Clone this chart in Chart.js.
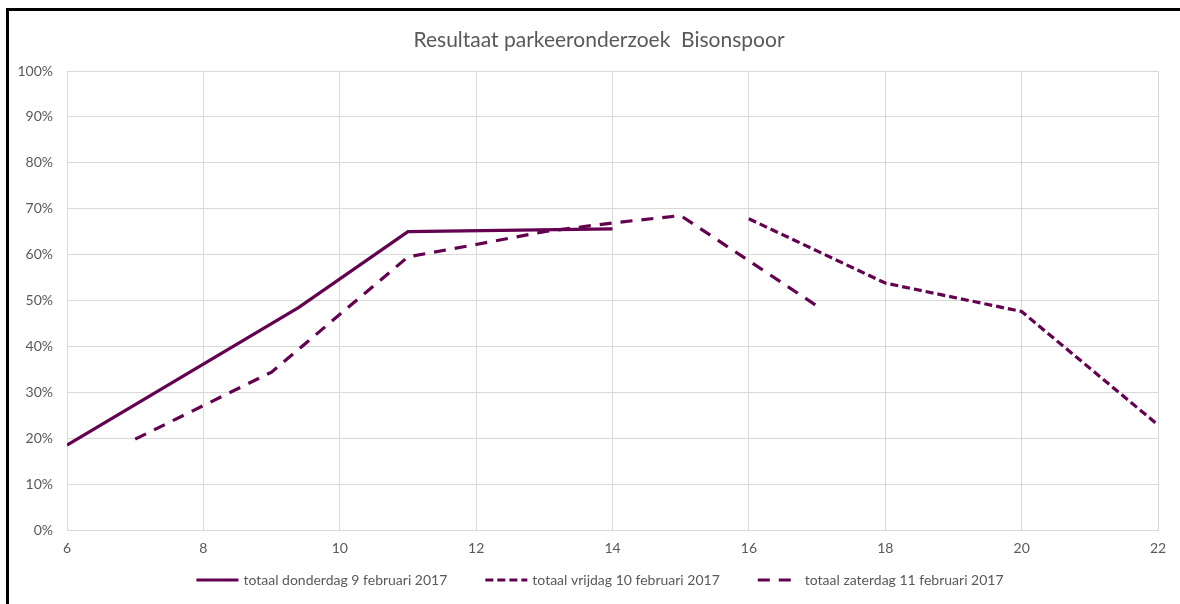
<!DOCTYPE html>
<html>
<head>
<meta charset="utf-8">
<script src="https://cdn.jsdelivr.net/npm/chart.js@4.4.1/dist/chart.umd.min.js"></script>
<style>
    html, body { margin: 0; padding: 0; background: #fff; overflow: hidden; }
    #wrap { position: relative; width: 1180px; height: 604px; overflow: hidden; }
    #frame { position: absolute; left: 6px; top: 8px; width: 1200px; height: 700px;
             border-left: 3px solid #000; border-top: 3px solid #000; }
    canvas { position: absolute; left: 0; top: 0; }
</style>
</head>
<body>
<div id="wrap">
    <div id="frame"></div>
    <canvas id="lineChart" width="1180" height="604"></canvas>
</div>
<script>
// uren (x) en bezetting in % (y)
const thursdayHours = [6, 9.4, 11, 14];
const thursdayValues = [18.5, 48.5, 65, 65.6];

const fridayHours = [16, 18, 20, 22];
const fridayValues = [67.8, 53.8, 47.6, 22.9];

const saturdayHours = [7, 9, 11, 12, 13, 14, 15, 17];
const saturdayValues = [19.8, 34.4, 59.5, 62.2, 65.0, 66.9, 68.5, 48.8];

const xTicks = [6, 8, 10, 12, 14, 16, 18, 20, 22];
const yTicks = [0, 10, 20, 30, 40, 50, 60, 70, 80, 90, 100];

const TITLE = "Resultaat parkeeronderzoek  Bisonspoor";
const LINE_COLOR = "#640050";
const TEXT_COLOR = "#595959";
const GRID_COLOR = "#d9d9d9";
const FONT = "Lato";

function toPoints(xs, ys) {
    return xs.map((x, i) => ({ x: x, y: ys[i] }));
}

// titel + legenda, zelf getekend zodat de posities kloppen met het origineel
const titleAndLegend = {
    id: "titleAndLegend",
    afterDraw(chart) {
        const ctx = chart.ctx;
        ctx.save();

        ctx.font = "21px " + FONT;
        ctx.fillStyle = TEXT_COLOR;
        ctx.textAlign = "center";
        ctx.textBaseline = "middle";
        ctx.fillText(TITLE, 599, 40);

        const y = 580;
        const sample = 42, textGap = 5, itemGap = 38;
        ctx.font = "14px " + FONT;
        const items = chart.data.datasets.map(ds => ({
            ds: ds,
            w: sample + textGap + ctx.measureText(ds.label).width
        }));
        const total = items.reduce((s, it) => s + it.w, 0) + itemGap * (items.length - 1);
        let x = 600 - total / 2;
        items.forEach(({ ds, w }) => {
            ctx.strokeStyle = ds.borderColor;
            ctx.lineWidth = ds.borderWidth;
            ctx.setLineDash(ds.borderDash || []);
            ctx.beginPath();
            ctx.moveTo(x, y);
            ctx.lineTo(x + sample, y);
            ctx.stroke();
            ctx.setLineDash([]);
            ctx.fillStyle = TEXT_COLOR;
            ctx.textAlign = "left";
            ctx.textBaseline = "middle";
            ctx.fillText(ds.label, x + sample + textGap, y);
            x += w + itemGap;
        });
        ctx.restore();
    }
};

const ctx = document.getElementById("lineChart").getContext("2d");
new Chart(ctx, {
    type: "scatter",
    data: {
        datasets: [
            {
                label: "totaal donderdag 9 februari 2017",
                data: toPoints(thursdayHours, thursdayValues),
                showLine: true,
                borderColor: LINE_COLOR,
                backgroundColor: LINE_COLOR,
                borderWidth: 3.2,
                pointRadius: 0,
                tension: 0
            },
            {
                label: "totaal vrijdag 10 februari 2017",
                data: toPoints(fridayHours, fridayValues),
                showLine: true,
                borderColor: LINE_COLOR,
                backgroundColor: LINE_COLOR,
                borderWidth: 3.2,
                borderDash: [8, 4],
                pointRadius: 0,
                tension: 0
            },
            {
                label: "totaal zaterdag 11 februari 2017",
                data: toPoints(saturdayHours, saturdayValues),
                showLine: true,
                borderColor: LINE_COLOR,
                backgroundColor: LINE_COLOR,
                borderWidth: 3.2,
                borderDash: [12, 9],
                pointRadius: 0,
                tension: 0
            }
        ]
    },
    options: {
        responsive: false,
        animation: false,
        layout: {
            padding: { left: 0, right: 22, top: 71, bottom: 0 }
        },
        plugins: {
            legend: { display: false },
            tooltip: { enabled: false },
            title: { display: false }
        },
        scales: {
            x: {
                type: "linear",
                min: xTicks[0],
                max: xTicks[xTicks.length - 1],
                afterBuildTicks: (scale) => {
                    scale.ticks = xTicks.map(v => ({ value: v }));
                },
                afterFit: (scale) => { scale.height = 74; },
                grid: { color: GRID_COLOR, drawTicks: false },
                border: { color: GRID_COLOR },
                ticks: {
                    color: TEXT_COLOR,
                    padding: 10,
                    font: { family: FONT, size: 14 },
                    maxRotation: 0
                }
            },
            y: {
                min: yTicks[0],
                max: yTicks[yTicks.length - 1],
                afterBuildTicks: (scale) => {
                    scale.ticks = yTicks.map(v => ({ value: v }));
                },
                afterFit: (scale) => { scale.width = 67; },
                grid: { color: GRID_COLOR, drawTicks: false },
                border: { color: GRID_COLOR },
                ticks: {
                    color: TEXT_COLOR,
                    padding: 14,
                    font: { family: FONT, size: 14 },
                    callback: (v) => v + "%"
                }
            }
        }
    },
    plugins: [titleAndLegend]
});
</script>
</body>
</html>
